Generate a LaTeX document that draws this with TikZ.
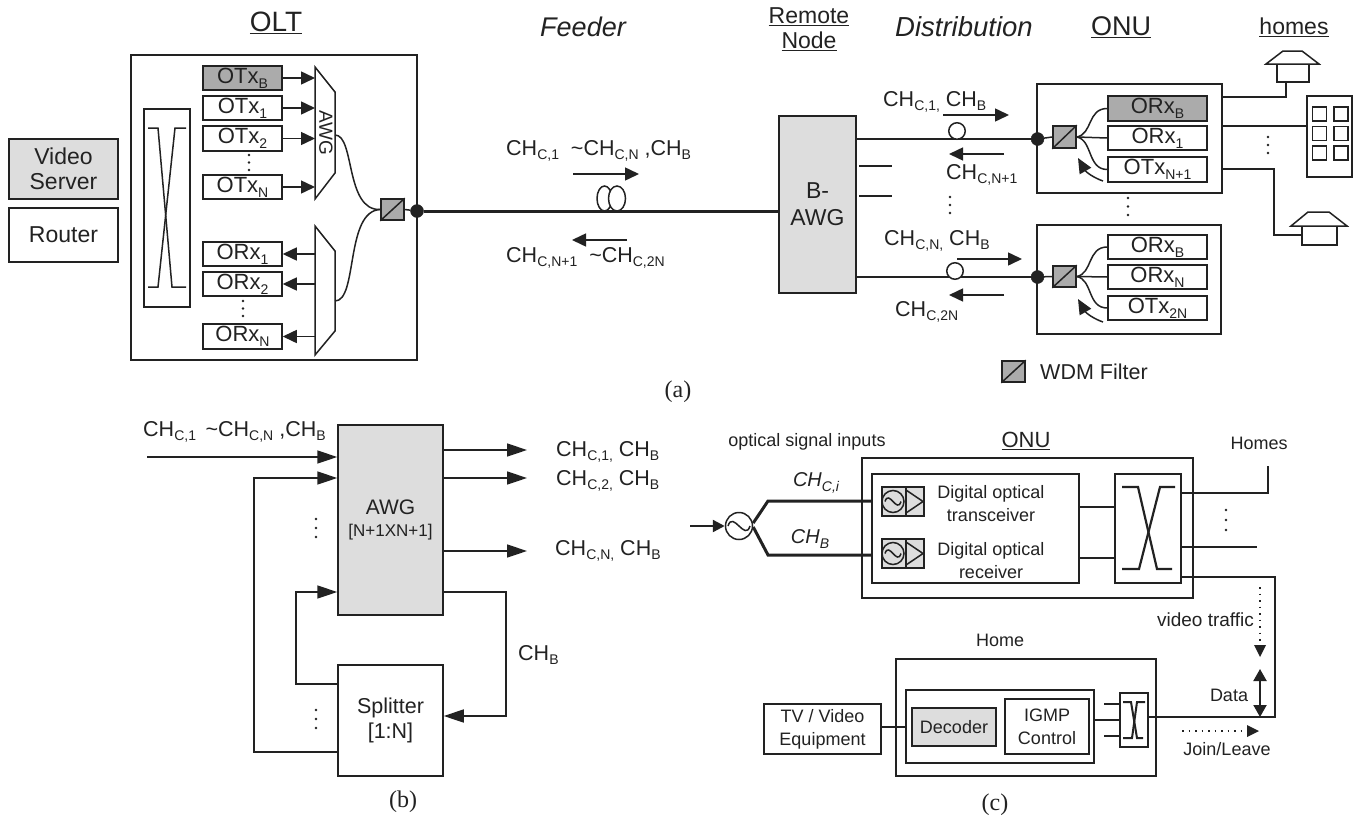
\documentclass[tikz,border=0pt]{standalone}
\usepackage{fontspec}
\setmainfont{Liberation Sans}
\newfontfamily\capfont{Liberation Serif}
\usetikzlibrary{arrows.meta}
\definecolor{ink}{HTML}{222222}
\definecolor{midgray}{HTML}{ABABAB}
\definecolor{lightgray2}{HTML}{DDDDDD}
\newcommand{\fs}[1]{\fontsize{#1}{#1}\selectfont}
\newcommand{\lo}[1]{\raisebox{-.4ex}{\fontsize{14}{14}\selectfont #1}}
\newcommand{\ul}[1]{\underline{#1}}
% box by corners: [opts]{name}{x1}{y1}{x2}{y2}{text}
\newcommand{\bx}[7][]{%
  \pgfmathsetmacro\bxcx{(#3+#5)/2}\pgfmathsetmacro\bxcy{(#4+#6)/2}%
  \pgfmathsetmacro\bxw{#5-#3}\pgfmathsetmacro\bxh{#6-#4}%
  \node[boxn,minimum width=\bxw pt,minimum height=\bxh pt,#1] (#2) at (\bxcx,\bxcy) {#7};}
% WDM filter: {name}{x1}{y1}{x2}{y2}
\newcommand{\wdm}[5]{\bx[fill=midgray]{#1}{#2}{#3}{#4}{#5}{}\draw[ln] (#1.south west) -- (#1.north east);}
\newcommand{\vdotsat}[3]{\foreach \k in {0,1,2}{\fill[ink] (#1,#2+\k*#3) circle (1.4);}}
% laser+amp icon: {name}{x1}{y1}{x2}{y2}
\newcommand{\icon}[5]{\bx[fill=lightgray2]{#1}{#2}{#3}{#4}{#5}{}
  \draw[ln] (#2+24,#3) -- (#2+24,#5);
  \draw[ln] (#2+24,#3+3) -- (#4-1,#3+14.5) -- (#2+24,#5-3);
  \draw[ln] (#2+11,#3+14.5) circle (11);
  \draw[ln] (#2+3,#3+14.5) .. controls (#2+7,#3+2) and (#2+15,#3+27) .. (#2+19,#3+14.5);}
\tikzset{
  ln/.style={draw=ink,line width=1.5pt},
  thickln/.style={draw=ink,line width=3pt},
  boxn/.style={draw=ink,line width=1.5pt,inner sep=0pt,align=center,text=ink,fill=white,font=\fs{22}},
  arr/.style={ln,-{Triangle[length=14pt,width=13pt]}},
  arrb/.style={ln,-{Triangle[length=20pt,width=13pt]}},
  arrs/.style={ln,-{Triangle[length=15pt,width=13pt]}},
  dotarr/.style={draw=ink,line width=1.5pt,dash pattern=on 1.5pt off 5pt,-{Triangle[length=12pt,width=12pt,line width=0pt]}},
  lbl/.style={inner sep=0pt,text=ink,align=center,font=\fs{21.5}},
  lbll/.style={lbl,anchor=west},
  sm/.style={lbl,font=\fs{18}},
  capt/.style={inner sep=0pt,text=ink,font=\capfont\fs{24}},
  dot/.style={circle,fill=ink,draw=ink,inner sep=0pt,minimum size=13pt},
  loopc/.style={circle,draw=ink,fill=white,line width=1.5pt,inner sep=0pt,minimum size=16pt},
}
\begin{document}
\begin{tikzpicture}[x=1pt,y=-1pt]
\useasboundingbox (0,0) rectangle (1360,822);
\fill[white] (0,0) rectangle (1360,822);
%%%%%%%%%% (a) titles
\node[lbl,font=\fs{28}] (oltl) at (276,23) {\ul{OLT}};
\node[lbl,font=\itshape\fs{27}] (feedl) at (583,27) {Feeder};
\node[lbl,font=\fs{23}] (rnl) at (809,29.5) {\ul{Remote}\\[2pt]\ul{Node}};
\node[lbl,font=\itshape\fs{27.5}] (distl) at (964,27) {Distribution};
\node[lbl,font=\fs{27}] (onul) at (1121,27) {\ul{ONU}};
\node[lbl,font=\fs{23}] (homel) at (1294,27) {\ul{homes}};
%%%%%%%%%% OLT
\bx[fill=lightgray2,font=\fs{23}]{video}{9}{139}{118}{199}{Video\\[2pt]Server}
\bx[font=\fs{23}]{router}{9}{208}{118}{262}{Router}
\bx{olt}{131}{55}{417}{360}{}
\bx{xb}{144}{109}{190}{307}{}
\draw[ln] (148,128) -- (158,128) -- (172,287) -- (186,287);
\draw[ln] (186,128) -- (175,128) -- (158,287) -- (148,287);
\bx[fill=midgray]{otxb}{203}{66}{282}{90}{OTx\lo{B}}
\bx{otxa}{203}{96}{282}{120}{OTx\lo{1}}
\bx{otxc}{203}{126}{282}{151}{OTx\lo{2}}
\bx{otxn}{203}{175}{282}{199}{OTx\lo{N}}
\bx{orxa}{203}{242}{282}{266}{ORx\lo{1}}
\bx{orxc}{203}{272}{282}{296}{ORx\lo{2}}
\bx{orxn}{203}{324}{282}{349}{ORx\lo{N}}
\vdotsat{249}{155}{7.5}
\vdotsat{243}{301}{7.5}
\draw[ln] (315,67) -- (335,92) -- (335,173) -- (315,199) -- cycle;
\draw[ln] (315,226) -- (335,251) -- (335,331) -- (315,355) -- cycle;
\coordinate (awgu) at (315,133);
\coordinate (awgd) at (315,290);
\coordinate (awguo) at (335,135);
\coordinate (awgdo) at (335,301);
\node[lbl,rotate=-90,font=\fs{19}] (awgt) at (326,133) {AWG};
\foreach \n in {otxb,otxa,otxc,otxn}{\draw[arr] (\n.east) -- (\n.east -| awgu);}
\foreach \n in {orxa,orxc,orxn}{\draw[arr] (\n.east -| awgd) -- (\n.east);}
\wdm{wdma}{381}{199}{404}{220}
\draw[ln] (awguo) .. controls (355,135) and (345,211) .. (wdma.west);
\draw[ln] (awgdo) .. controls (358,301) and (345,211) .. (wdma.west);
\node[dot] (dota) at (417,211) {};
\draw[ln] (wdma.east) -- (dota);
%%%%%%%%%% feeder
\bx[fill=lightgray2,line width=2.6pt,font=\fs{23}]{bawg}{779}{116}{856}{293}{B-\\[4pt]AWG}
\draw[ln] (604.5,198.5) ellipse (7.5 and 12.5);
\draw[ln,fill=white] (617,198.5) ellipse (8.5 and 12.5);
\draw[thickln] (dota) -- (bawg.west |- dota);
\node[lbll] (tf1) at (506,151) {CH\lo{C,1} \ \textasciitilde CH\lo{C,N} ,CH\lo{B}};
\node[lbll] (tf2) at (506,258) {CH\lo{C,N+1} \ \textasciitilde CH\lo{C,2N}};
\coordinate (af1) at (573,174);\coordinate (af2) at (639,174);
\coordinate (af3) at (627,240);\coordinate (af4) at (572,240);
\draw[arr] (af1) -- (af2);
\draw[arr] (af3) -- (af4);
%%%%%%%%%% distribution
\bx{onua}{1037}{84}{1222}{193}{}
\bx{onub}{1037}{225}{1221}{334}{}
\node[dot] (dotb) at (1037.5,139) {};
\node[dot] (dotc) at (1037.5,277) {};
\wdm{wdmb}{1053}{126}{1076}{148}
\wdm{wdmc}{1053}{266}{1076}{287}
\bx[fill=midgray]{rxb}{1108}{96}{1207}{121}{ORx\lo{B}}
\bx{rxa}{1108}{126}{1207}{150}{ORx\lo{1}}
\bx{txa}{1108}{157}{1207}{182}{OTx\lo{N+1}}
\bx{rxbb}{1108}{235}{1207}{259}{ORx\lo{B}}
\bx{rxn}{1108}{265}{1207}{289}{ORx\lo{N}}
\bx{txn}{1108}{296}{1207}{320}{OTx\lo{2N}}
\draw[ln] (bawg.east |- dotb) -- (dotb);
\draw[ln] (bawg.east |- dotc) -- (dotc);
\draw[ln] (dotb) -- (wdmb.west);
\draw[ln] (dotc) -- (wdmc.west);
\node[loopc,minimum size=16.5pt] (loopa) at (957,131) {};
\node[loopc,minimum size=16.5pt] (loopb) at (955,271) {};
\draw[ln] (wdmb.east) -- (rxa.west);
\draw[ln] (wdmb.east) .. controls +(16,-3) and +(-20,0) .. (rxb.west);
\draw[ln] (wdmb.east) .. controls +(16,3) and +(-20,0) .. (txa.west);
\draw[ln] (wdmc.east) -- (rxn.west);
\draw[ln] (wdmc.east) .. controls +(16,-3) and +(-20,0) .. (rxbb.west);
\draw[ln] (wdmc.east) .. controls +(16,3) and +(-20,0) .. (txn.west);
\coordinate (c1) at (1103,181);\coordinate (c2) at (1078,158);
\coordinate (c3) at (1103,322);\coordinate (c4) at (1078,299);
\draw[arrs] (c1) .. controls (1094,178) and (1086,172) .. (c2);
\draw[arrs] (c3) .. controls (1094,319) and (1086,313) .. (c4);
\node[lbll] (t1) at (883,102) {CH\lo{C,1,} CH\lo{B}};
\node[lbll] (t2) at (946,175) {CH\lo{C,N+1}};
\node[lbll] (t3) at (884,241) {CH\lo{C,N,} CH\lo{B}};
\node[lbll] (t4) at (895,312) {CH\lo{C,2N}};
\coordinate (a1) at (943,115);\coordinate (a2) at (1009,115);
\coordinate (a3) at (1004,154);\coordinate (a4) at (949,154);
\coordinate (a5) at (957,259);\coordinate (a6) at (1022,259);
\coordinate (a7) at (1004,295);\coordinate (a8) at (949,295);
\draw[arr] (a1) -- (a2);
\draw[arr] (a3) -- (a4);
\draw[arr] (a5) -- (a6);
\draw[arr] (a7) -- (a8);
\coordinate (s1) at (892,166);\coordinate (s2) at (892,196);
\draw[ln] (bawg.east |- s1) ++(2,0) -- (s1);
\draw[ln] (bawg.east |- s2) ++(2,0) -- (s2);
\vdotsat{950}{197}{8}
\vdotsat{1128}{198}{8.5}
\vdotsat{1268}{137}{8}
%%%%%%%%%% homes
\bx{ha}{1277}{64}{1309}{82}{}
\draw[ln,fill=white] (1266,64) -- (1283,51) -- (1302,51) -- (1319,64) -- cycle;
\bx{hc}{1302}{226}{1337}{245}{}
\draw[ln,fill=white] (1291,226) -- (1308,212) -- (1329,212) -- (1347,226) -- cycle;
\bx{bld}{1307}{96}{1352}{177}{}
\foreach \yy in {107,126.5,146}{
  \draw[ln] (1312.5,\yy) rectangle ++(14,14);
  \draw[ln] (1334,\yy) rectangle ++(14,14);
}
\coordinate (h1) at (1286,97);
\coordinate (h2) at (1222,126);
\coordinate (h3) at (1274,169);
\coordinate (h4) at (1274,235);
\draw[ln] (onua.east |- h1) -- (h1) -- (h1 |- ha.south);
\draw[ln] (h2) -- (h2 -| bld.west);
\draw[ln] (onua.east |- h3) -- (h3) -- (h4) -- (h4 -| hc.west);
%%%%%%%%%% legend and caption
\wdm{wdml}{1002}{361}{1025}{382}
\node[lbll] (wdmt) at (1040,372) {WDM Filter};
\node[capt] (capa) at (678,392) {(a)};
%%%%%%%%%% (b)
\bx[fill=lightgray2,font=\fs{21}]{bawgb}{338}{425}{443}{615}{AWG\\[1pt]{\fs{17}[N+1XN+1]}}
\bx[font=\fs{21.5}]{split}{338}{665}{443}{776}{Splitter\\[4pt][1:N]}
\node[lbll] (tb0) at (143,432) {CH\lo{C,1} \,\textasciitilde CH\lo{C,N} ,CH\lo{B}};
\coordinate (bi) at (147,457);
\coordinate (bj) at (254,478);
\coordinate (bk) at (254,752);
\coordinate (bl) at (296,592);
\coordinate (bm) at (296,684);
\coordinate (bn) at (506,592);
\coordinate (bo) at (506,716);
\draw[arrb] (bi) -- (bi -| bawgb.west);
\draw[arrb] (bk -| split.west) -- (bk) -- (bj) -- (bj -| bawgb.west);
\draw[arrb] (bm -| split.west) -- (bm) -- (bl) -- (bl -| bawgb.west);
\draw[arrb] (bn -| bawgb.east) -- (bn) -- (bo) -- (bo -| split.east);
\coordinate (bp) at (527,450);\coordinate (bq) at (527,478);\coordinate (br) at (527,551);
\draw[arrb] (bp -| bawgb.east) -- (bp);
\draw[arrb] (bq -| bawgb.east) -- (bq);
\draw[arrb] (br -| bawgb.east) -- (br);
\node[lbll] (tb1) at (556,452) {CH\lo{C,1,} CH\lo{B}};
\node[lbll] (tb2) at (556,481) {CH\lo{C,2,} CH\lo{B}};
\node[lbll] (tb3) at (555,551) {CH\lo{C,N,} CH\lo{B}};
\node[lbll] (tb4) at (518,655) {CH\lo{B}};
\vdotsat{316}{519}{9}
\vdotsat{316}{710}{9}
\node[capt] (capb) at (403,802) {(b)};
%%%%%%%%%% (c)
\node[sm] (osi) at (807,442) {optical signal inputs};
\node[lbl,font=\fs{22}] (onuc) at (1026,441) {\ul{ONU}};
\node[sm] (homs) at (1259,443) {Homes};
\bx{onuo}{862}{458}{1193}{598}{}
\bx{onui}{872}{474}{1079}{583}{}
\icon{ia}{882}{487}{924}{516}
\icon{ib}{882}{539}{924}{568}
\node[sm,align=center] (dta) at (991,503.5) {Digital optical\\[5pt]transceiver};
\node[sm,align=center] (dtb) at (991,560.5) {Digital optical\\[5pt]receiver};
\node[circle,draw=ink,fill=white,line width=1.5pt,inner sep=0pt,minimum size=27pt] (osc) at (739,526) {};
\draw[ln] (728,526) .. controls (733,510) and (745,542) .. (750,526);
\coordinate (ci) at (690,526);
\coordinate (cu) at (768,501);
\coordinate (cd) at (768,555);
\draw[draw=ink,line width=2.4pt,-{Triangle[length=12pt,width=12pt]}] (ci) -- (osc.west);
\draw[thickln] (osc.east) ++(0,-3) -- (cu) -- (cu -| onui.west);
\draw[thickln] (osc.east) ++(0,1) -- (cd) -- (cd -| onui.west);
\node[lbl,font=\itshape\fs{20}] (chci) at (816,483) {CH\lo{C,i}};
\node[lbl,font=\itshape\fs{20}] (chbb) at (810,539) {CH\lo{B}};
\bx{xo}{1115}{474}{1181}{583}{}
\draw[draw=ink,line width=2.2pt] (1122,487) -- (1138,487) -- (1157,569) -- (1172,569);
\draw[draw=ink,line width=2.2pt] (1175,487) -- (1160,487) -- (1139,569) -- (1122,569);
\coordinate (xa) at (1115,507);\coordinate (xb2) at (1115,558);
\draw[ln] (onui.east |- xa) -- (xa);
\draw[ln] (onui.east |- xb2) -- (xb2);
\coordinate (ha1) at (1268,493);\coordinate (ha2) at (1268,466);
\coordinate (hb1) at (1257,547);
\draw[ln] (xo.east |- ha1) -- (ha1) -- (ha2);
\draw[ln] (xo.east |- hb1) -- (hb1);
\vdotsat{1226}{510}{10}
\node[lbl,font=\fs{19}] (vt) at (1205.5,620) {video traffic};
\node[sm] (data) at (1229,695) {Data};
\node[sm] (jl) at (1227,749) {Join/Leave};
\node[sm] (hm) at (1000,640) {Home};
\node[sm] (stb) at (1015,674) {Set-top-box};
\bx{hmo}{896}{659}{1156}{776}{}
\bx{hmi}{906}{690}{1094}{763}{}
\bx[fill=lightgray2,font=\fs{18}]{dec}{912}{708}{996}{746}{Decoder}
\bx[font=\fs{18}]{igmp}{1005}{699}{1089}{754}{IGMP\\[5pt]Control}
\bx[font=\fs{18}]{tv}{764}{704}{881}{754}{TV / Video\\[5pt]Equipment}
\draw[ln] (tv.east |- 0,727) -- (hmi.west |- 0,727);
\bx{xs}{1120}{693}{1148}{747}{}
\draw[draw=ink,line width=2pt] (1123,702) -- (1131,702) -- (1137,738) -- (1143,738);
\draw[draw=ink,line width=2pt] (1145,702) -- (1137,702) -- (1132,738) -- (1123,738);
\coordinate (sa) at (1104,704);\coordinate (sb) at (1104,736);\coordinate (sc) at (1120,720);
\draw[ln] (sa) -- (sa -| xs.west);
\draw[ln] (sb) -- (sb -| xs.west);
\draw[ln] (hmi.east |- sc) -- (sc);
\coordinate (ra) at (1275,577);\coordinate (rb) at (1275,717);\coordinate (rc) at (1148,717);
\draw[ln] (xo.east |- ra) -- (ra) -- (rb) -- (rc);
\coordinate (d1) at (1260,587);\coordinate (d2) at (1260,657);
\draw[dotarr] (d1) -- (d2);
\coordinate (d3) at (1260,669);\coordinate (d4) at (1260,717);
\draw[draw=ink,line width=2pt,{Triangle[length=12pt,width=13pt]}-{Triangle[length=12pt,width=13pt]}] (d3) -- (d4);
\coordinate (d5) at (1182,731);\coordinate (d6) at (1259,731);
\draw[dotarr] (d5) -- (d6);
\node[capt] (capc) at (995,805) {(c)};
\end{tikzpicture}
\end{document}
